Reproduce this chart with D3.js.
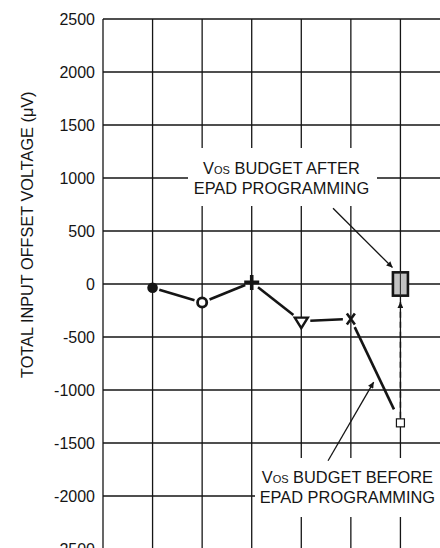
<!DOCTYPE html>
<html><head><meta charset="utf-8">
<script src="https://cdn.jsdelivr.net/npm/d3@7"></script>
<style>
html,body{margin:0;padding:0;background:#fff;}
svg{display:block;font-family:"Liberation Sans",Arial,sans-serif;}
</style></head>
<body>
<svg id="c" width="440" height="548"></svg>
<script>
// ---- data ----
const yTicks = [2500, 2000, 1500, 1000, 500, 0, -500, -1000, -1500, -2000, -2500];
const columns = [0, 1, 2, 3, 4, 5, 6, 7];
const pointX = [1, 2, 3, 4, 5, 6];
const pointY = [-35, -175, 15, -350, -330, -1310];
const pointSymbols = ["filledCircle", "openCircle", "plus", "triangleDown", "cross", "square"];
const afterBudget = [110, -110];       // Vos budget after EPAD programming (µV), at column 6
const yTitle = "TOTAL INPUT OFFSET VOLTAGE (\u03BCV)";
const labelAfter = [["V", "OS", " BUDGET AFTER"], ["EPAD PROGRAMMING"]];
const labelBefore = [["V", "OS", " BUDGET BEFORE"], ["EPAD PROGRAMMING"]];

// ---- layout ----
const svg = d3.select("#c");
const x = d3.scaleLinear().domain([0, 7]).range([103, 450]);
const y = d3.scaleLinear().domain([2500, -2500]).range([19, 549]);
const ink = "#151515";

// defs: arrowheads
const defs = svg.append("defs");
defs.append("marker").attr("id", "ah").attr("viewBox", "0 0 10 10")
  .attr("refX", 10).attr("refY", 5).attr("markerWidth", 9).attr("markerHeight", 6)
  .attr("markerUnits", "userSpaceOnUse").attr("orient", "auto")
  .append("path").attr("d", "M0,0L10,5L0,10Z").attr("fill", ink);

// grid
const grid = svg.append("g");
grid.selectAll("line.h").data(yTicks.filter(d => d > -2500)).join("line")
  .attr("x1", x(0)).attr("x2", x(7)).attr("y1", d => y(d)).attr("y2", d => y(d))
  .attr("stroke", ink).attr("stroke-width", 1.3);
grid.selectAll("line.v").data(columns).join("line")
  .attr("x1", d => x(d)).attr("x2", d => x(d)).attr("y1", y(2500)).attr("y2", 548)
  .attr("stroke", ink).attr("stroke-width", 1.3);

// y axis tick labels
svg.append("g").selectAll("text").data(yTicks).join("text")
  .attr("x", 95).attr("y", d => y(d)).attr("dy", "0.36em")
  .attr("text-anchor", "end").attr("font-size", 16).attr("fill", ink)
  .text(d => d);

// y title
svg.append("text").attr("transform", `translate(33,${y(465)}) rotate(-90)`)
  .attr("text-anchor", "middle").attr("font-size", 16.3).attr("fill", ink).text(yTitle);

// annotation labels
function label(cx, cy, lines, box) {
  const g = svg.append("g");
  g.append("rect").attr("x", box[0]).attr("y", box[1]).attr("width", box[2]).attr("height", box[3]).attr("fill", "#fff");
  lines.forEach((parts, i) => {
    const t = g.append("text").attr("x", cx).attr("y", cy + i * 20 - 10)
      .attr("text-anchor", "middle").attr("font-size", 16.4).attr("fill", ink);
    parts.forEach((p, j) => {
      const ts = t.append("tspan").text(p);
      if (parts.length > 1 && j === 1) ts.attr("font-size", 11);
    });
  });
}
label(x(3.6), y(943), labelAfter, [188, 148, 189, 58]);
label(x(4.93), y(-1972), labelBefore, [255, 458, 190, 59]);

// connecting segments with gaps
const pts = pointX.map((d, i) => [x(d), y(pointY[i])]);
const gaps = [[7, 8], [8, 7], [8, 10], [9, 8], [9, 15]];
const segs = gaps.map((g, i) => {
  const a = pts[i], b = pts[i + 1];
  const dx = b[0] - a[0], dy = b[1] - a[1], L = Math.hypot(dx, dy);
  return [a[0] + dx / L * g[0], a[1] + dy / L * g[0], b[0] - dx / L * g[1], b[1] - dy / L * g[1]];
});
svg.append("g").selectAll("line").data(segs).join("line")
  .attr("x1", d => d[0]).attr("y1", d => d[1]).attr("x2", d => d[2]).attr("y2", d => d[3])
  .attr("stroke", ink).attr("stroke-width", 2.6);

// after-budget box
const bx = x(6);
svg.append("rect").attr("x", bx - 7.5).attr("y", y(afterBudget[0]))
  .attr("width", 15).attr("height", y(afterBudget[1]) - y(afterBudget[0]))
  .attr("fill", "#c2c2c2").attr("stroke", ink).attr("stroke-width", 2.6);
svg.append("line").attr("x1", bx).attr("x2", bx).attr("y1", y(afterBudget[0])).attr("y2", y(afterBudget[1]))
  .attr("stroke", "#333").attr("stroke-width", 1.2);

// dashed arrow from before to after
svg.append("line").attr("x1", bx).attr("x2", bx)
  .attr("y1", y(pointY[5]) - 5).attr("y2", y(-170))
  .attr("stroke", ink).attr("stroke-width", 1.5).attr("stroke-dasharray", "6,4")
  .attr("marker-end", "url(#ah)");

// annotation arrows
svg.append("line").attr("x1", x(4.64)).attr("y1", y(714)).attr("x2", x(5.84)).attr("y2", y(155))
  .attr("stroke", ink).attr("stroke-width", 1.3).attr("marker-end", "url(#ah)");
svg.append("line").attr("x1", x(4.54)).attr("y1", y(-1667)).attr("x2", x(5.46)).attr("y2", y(-925))
  .attr("stroke", ink).attr("stroke-width", 1.3).attr("marker-end", "url(#ah)");

// markers
const mk = svg.append("g");
pts.forEach((p, i) => {
  const [px, py] = p, s = pointSymbols[i];
  if (s === "filledCircle") {
    mk.append("circle").attr("cx", px).attr("cy", py).attr("r", 5.3).attr("fill", ink);
  } else if (s === "openCircle") {
    mk.append("circle").attr("cx", px).attr("cy", py).attr("r", 4.6).attr("fill", "#fff")
      .attr("stroke", ink).attr("stroke-width", 2.8);
  } else if (s === "plus") {
    mk.append("path").attr("d", `M${px - 7.5},${py}H${px + 7.5}M${px},${py - 7.5}V${py + 7.5}`)
      .attr("stroke", ink).attr("stroke-width", 3.6);
  } else if (s === "triangleDown") {
    mk.append("path").attr("d", `M${px - 6.5},${py - 3.5}H${px + 6.5}L${px},${py + 7}Z`)
      .attr("fill", "#fff").attr("stroke", ink).attr("stroke-width", 2.4).attr("stroke-linejoin", "miter");
  } else if (s === "cross") {
    mk.append("path").attr("d", `M${px - 4},${py - 5.5}L${px + 4},${py + 5.5}M${px + 4},${py - 5.5}L${px - 4},${py + 5.5}`)
      .attr("stroke", ink).attr("stroke-width", 2.6);
  } else if (s === "square") {
    mk.append("rect").attr("x", px - 4).attr("y", py - 4).attr("width", 8).attr("height", 8)
      .attr("fill", "#fff").attr("stroke", ink).attr("stroke-width", 1.2);
  }
});
</script>
</body></html>
